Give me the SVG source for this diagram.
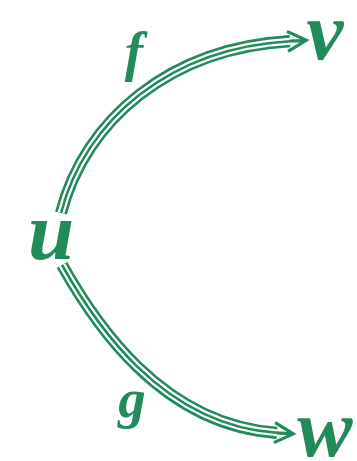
<svg xmlns="http://www.w3.org/2000/svg" width="357" height="461" viewBox="0 0 357 461">
<style>
.o{fill:none;stroke:#228b5a;stroke-width:12.2}
.w{fill:none;stroke:#fff;stroke-width:7}
.m{fill:none;stroke:#228b5a;stroke-width:2.6;marker-end:url(#tri)}
.n{font-family:"Liberation Serif","DejaVu Serif",serif;font-weight:bold;font-style:italic;fill:#228b5a;text-anchor:middle}
.big{font-size:83px}
.lbl{font-size:55px}
</style>
<defs>
<marker id="tri" markerUnits="userSpaceOnUse" orient="auto" refX="0" refY="0" markerWidth="30" markerHeight="30" viewBox="-5 -12 24 24" overflow="visible">
<path d="M0 0H12M-2 -8L13 0L-2 8" fill="none" stroke="#228b5a" stroke-width="2.6" stroke-linejoin="miter"/>
</marker>
</defs>
<g id="connectors">
<g id="f-arrow">
<path class="o" d="M61 213C85 120 170 48 290 41.2"/>
<path class="w" d="M61 213C85 120 170 48 290 41.2"/>
<path class="m" d="M61 213C85 120 170 48 290 41.2"/>
</g>
<g id="g-arrow">
<path class="o" d="M62 265C93 320 160 425 277 432.8"/>
<path class="w" d="M62 265C93 320 160 425 277 432.8"/>
<path class="m" d="M62 265C93 320 160 425 277 432.8"/>
</g>
</g>
<g id="node-u"><text class="n big" x="51" y="259">u</text></g>
<g id="node-v"><text class="n big" x="325" y="59">v</text></g>
<g id="node-w"><text class="n big" x="325" y="456">w</text></g>
<g id="label-f"><text class="n lbl" x="134" y="70">f</text></g>
<g id="label-g"><text class="n lbl" x="132" y="417">g</text></g>
</svg>
